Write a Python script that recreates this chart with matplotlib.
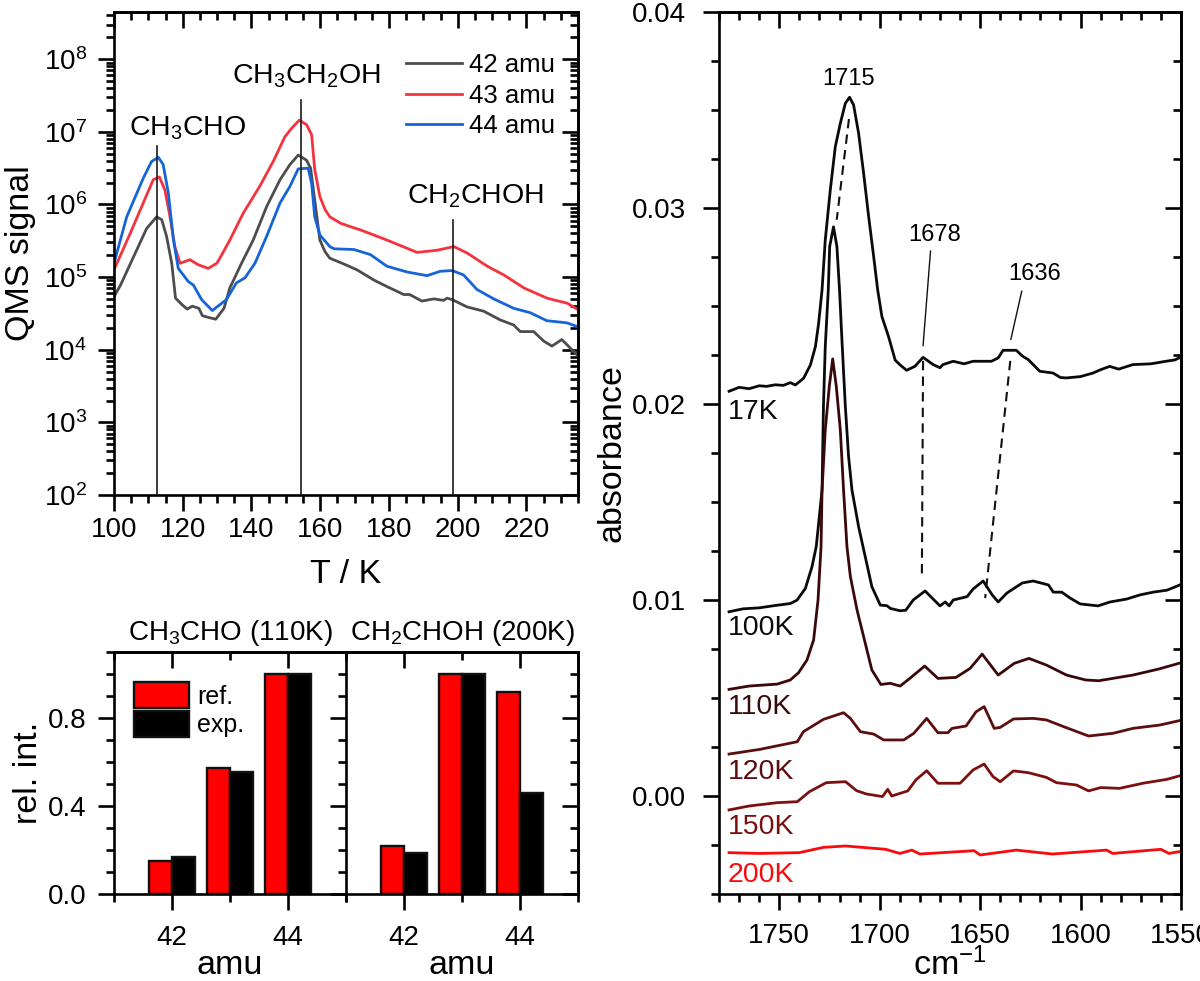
#!/usr/bin/env python
"""TPD traces, fragment ratios and IR spectra of the annealed ice."""

import matplotlib
matplotlib.use("Agg")
import matplotlib.pyplot as plt
from matplotlib.patches import Patch
from matplotlib.ticker import FixedLocator, LogLocator, MultipleLocator, NullFormatter

plt.rcParams["font.family"] = ["Liberation Sans", "DejaVu Sans"]
plt.rcParams["mathtext.fontset"] = "custom"
plt.rcParams["mathtext.rm"] = "Liberation Sans"
plt.rcParams["mathtext.default"] = "regular"

# QMS traces, log10 of the signal
T_42 = [100, 101.9, 105.7, 109.5, 112.4, 113.9, 115.3, 116.8, 117.9, 119.8, 121.3, 122.8, 124.7, 125.7, 127.1, 129.6,
        132, 133.7, 137.1, 140.5, 144.4, 148.3, 151.2, 153.6, 156, 157.2, 158.4, 159.9, 161.4, 162.8, 166.9, 170.7,
        175.6, 179.4, 184.3, 186, 189.6, 193, 195.9, 196.9, 198.4, 202.7, 207.6, 212.4, 216.3, 218.2, 222.1, 225,
        227.4, 230.3, 234.7]
S_42 = [4.73, 4.89, 5.28, 5.67, 5.83, 5.79, 5.56, 5.19, 4.71, 4.62, 4.56, 4.6, 4.57, 4.47, 4.45, 4.42,
        4.57, 4.85, 5.19, 5.51, 5.97, 6.34, 6.55, 6.68, 6.61, 6.5, 6.06, 5.51, 5.35, 5.26, 5.18, 5.1,
        4.96, 4.87, 4.76, 4.76, 4.67, 4.7, 4.68, 4.71, 4.69, 4.59, 4.53, 4.41, 4.34, 4.25, 4.25, 4.12,
        4.05, 4.14, 3.93]
T_43 = [100, 104.7, 109.5, 111.4, 113.2, 114.8, 116.3, 117.7, 119.2, 122.1, 124.5, 127.4, 129.9, 130.8, 133.7, 137.6,
        142.4, 146.3, 149.7, 151.7, 153.9, 156, 157.5, 158.4, 159.9, 161.4, 162.8, 166, 169.7, 171.7, 179.4, 188.2,
        194, 198.9, 202.8, 208.6, 213.4, 219.3, 226, 231.9, 234.7]
S_43 = [5.1, 5.6, 6.13, 6.34, 6.38, 6.2, 5.83, 5.42, 5.19, 5.24, 5.17, 5.12, 5.19, 5.26, 5.51, 5.88,
        6.25, 6.59, 6.93, 7.05, 7.16, 7.1, 6.96, 6.48, 6.11, 5.93, 5.83, 5.74, 5.68, 5.65, 5.51, 5.34,
        5.37, 5.42, 5.33, 5.15, 5.03, 4.85, 4.71, 4.64, 4.56]
T_44 = [100, 103.7, 108.5, 110.9, 112.9, 114.3, 115.8, 117.3, 118.7, 121.6, 123.1, 125.5, 128.6, 132.7, 135.6, 138.1,
        141, 144.4, 148.3, 151.2, 153.6, 156.5, 157.5, 158.4, 159.9, 162.8, 164, 169.8, 174.6, 179.4, 185.3, 191.1,
        194.9, 198.4, 201.7, 205.6, 210.5, 216.3, 221.1, 225.9, 231.8, 234.7]
S_44 = [5.19, 5.83, 6.36, 6.59, 6.65, 6.55, 6.16, 5.51, 5.12, 4.94, 4.89, 4.69, 4.54, 4.69, 4.92, 4.99,
        5.19, 5.56, 6.02, 6.25, 6.49, 6.5, 6.29, 5.83, 5.58, 5.42, 5.39, 5.38, 5.31, 5.15, 5.07, 5.02,
        5.08, 5.09, 5.03, 4.83, 4.7, 4.57, 4.51, 4.4, 4.37, 4.32]

# relative intensities
AMU = [42, 43, 44]
REF_CH3CHO = [0.151, 0.574, 1.0]
EXP_CH3CHO = [0.166, 0.556, 1.0]
REF_CH2CHOH = [0.216, 1.0, 0.918]
EXP_CH2CHOH = [0.186, 1.0, 0.461]

# IR spectra
W_17 = [1775, 1770, 1765, 1760, 1756.3, 1752, 1748, 1744.5, 1742, 1737.9, 1734.5, 1732, 1730.4, 1728.7, 1727.1, 1724.6,
        1722.1, 1719.6, 1717.1, 1715, 1713, 1710.5, 1708, 1705.5, 1703, 1701, 1698.9, 1695.6, 1692.3, 1689.8, 1686.6,
        1682.5, 1678.4, 1673.4, 1670, 1668.5, 1663.4, 1658, 1653.5, 1644.4, 1641, 1638.6, 1632, 1629, 1626, 1623,
        1620.3, 1613.7, 1610, 1607, 1600, 1593.8, 1590, 1585.5, 1581, 1574, 1565, 1557.5, 1553, 1551]
A_17 = [0.02065, 0.02085, 0.02078, 0.02093, 0.0209, 0.02098, 0.02095, 0.02109, 0.02097, 0.02131, 0.02199, 0.02293,
        0.02412, 0.02582, 0.02837, 0.03092, 0.03313, 0.03432, 0.03534, 0.03565, 0.03526, 0.03381, 0.03177, 0.02956,
        0.02752, 0.02582, 0.02446, 0.02344, 0.02224, 0.02199, 0.02172, 0.02192, 0.02238, 0.02201, 0.02185, 0.02201,
        0.02218, 0.02205, 0.02218, 0.02218, 0.02235, 0.02274, 0.02274, 0.02245, 0.02226, 0.02195, 0.02167, 0.02158,
        0.02135, 0.02133, 0.0214, 0.02158, 0.02175, 0.02192, 0.02178, 0.02201, 0.02205, 0.02218, 0.02225, 0.02235]
W_100 = [1775, 1768, 1760, 1752, 1744.5, 1741.2, 1737, 1733.7, 1731.6, 1730.4, 1728.7, 1728, 1727.1, 1725.6, 1724.9,
         1723, 1721.3, 1720, 1718.8, 1717.1, 1715.5, 1713.8, 1710.5, 1707.2, 1703.9, 1699.7, 1696.4, 1694.7, 1689.8,
         1687, 1683.3, 1677.4, 1670, 1667.4, 1665.4, 1663.4, 1656.5, 1653.5, 1648.5, 1644, 1641, 1636.6, 1629,
         1623.6, 1616, 1613.6, 1609.4, 1605.2, 1600.2, 1591.3, 1585.3, 1577, 1570.4, 1563.9, 1557, 1550.5]
A_100 = [0.0094, 0.00955, 0.0096, 0.00972, 0.00982, 0.00999, 0.01059, 0.0117, 0.01272, 0.01391, 0.01561, 0.01987,
         0.02293, 0.02582, 0.02803, 0.02904, 0.02803, 0.02582, 0.02327, 0.01987, 0.01733, 0.01561, 0.01374, 0.01221,
         0.01068, 0.00974, 0.00971, 0.00957, 0.00945, 0.00948, 0.01, 0.01046, 0.0097, 0.0099, 0.0097, 0.01,
         0.01017, 0.01056, 0.01097, 0.01026, 0.0099, 0.01036, 0.01087, 0.01097, 0.01077, 0.0104, 0.0104, 0.0101,
         0.0098, 0.0097, 0.0099, 0.01005, 0.01026, 0.0104, 0.0105, 0.01077]
W_110 = [1775, 1765, 1751, 1744.5, 1740.4, 1736.2, 1732.9, 1730.7, 1729.2, 1728.7, 1727.1, 1725.1, 1723.4, 1721.6,
         1719.6, 1718, 1716.3, 1714.6, 1711.3, 1708, 1703.9, 1699.4, 1694.8, 1689.8, 1685, 1677.6, 1671, 1662, 1655,
         1649, 1641, 1633, 1625.7, 1617, 1607, 1597.5, 1591, 1574, 1561, 1551]
A_110 = [0.00544, 0.00561, 0.00571, 0.00592, 0.00629, 0.00694, 0.00796, 0.01, 0.01272, 0.01562, 0.01867, 0.02089,
         0.0223, 0.02089, 0.01867, 0.01562, 0.01272, 0.0112, 0.0095, 0.00813, 0.00643, 0.00569, 0.00575, 0.00561,
         0.006, 0.00663, 0.006, 0.00605, 0.00651, 0.00724, 0.00617, 0.00677, 0.00702, 0.00668, 0.00617, 0.00592,
         0.00588, 0.00617, 0.00648, 0.00677]
W_120 = [1775, 1759.6, 1741, 1738, 1728, 1718, 1714.6, 1709.6, 1703, 1698, 1688, 1683, 1676.6, 1671, 1666, 1664, 1657,
         1652, 1648, 1643, 1640, 1633.4, 1623.5, 1617, 1608.5, 1596, 1583.8, 1574, 1560.6, 1551]
A_120 = [0.00214, 0.00238, 0.00277, 0.00328, 0.00391, 0.00425, 0.00396, 0.00328, 0.00316, 0.00286, 0.00286, 0.0032,
         0.00396, 0.00323, 0.00323, 0.00345, 0.00357, 0.0043, 0.00456, 0.00345, 0.0035, 0.00393, 0.00396, 0.00388,
         0.00354, 0.00306, 0.0032, 0.00345, 0.00362, 0.00384]
W_150 = [1775, 1765, 1751, 1741, 1735, 1726.6, 1717, 1711.5, 1706.5, 1698.6, 1696, 1694, 1686, 1682, 1676.6, 1671, 1660,
         1653.5, 1648, 1643.6, 1640, 1633.4, 1626, 1617, 1612, 1602, 1596, 1590, 1580.6, 1569, 1557, 1551]
A_150 = [-0.00071, -0.00051, -0.00034, -0.00029, 0.00022, 0.00068, 0.00073, 0.00027, 0.0001, -0.00003, 0.00034, 0.0,
         0.00026, 0.00082, 0.00129, 0.00065, 0.00065, 0.00133, 0.00163, 0.00099, 0.00073, 0.00128, 0.00119, 0.00095,
         0.00068, 0.00056, 0.00026, 0.00043, 0.00039, 0.00065, 0.00085, 0.00102]
W_200 = [1775, 1760, 1740, 1728, 1717, 1697, 1690, 1684, 1680, 1653, 1650, 1632, 1614, 1587, 1584, 1560, 1556, 1551]
A_200 = [-0.00289, -0.00293, -0.00289, -0.00262, -0.00255, -0.00272, -0.00293, -0.00276, -0.00296, -0.00279, -0.00301,
         -0.00276, -0.00296, -0.00276, -0.00293, -0.00272, -0.00293, -0.00284]

SPECTRA = [("17K", W_17, A_17, "#0a0a0a", 0.0196),
           ("100K", W_100, A_100, "#0a0a0a", 0.00855),
           ("110K", W_110, A_110, "#3a0808", 0.00455),
           ("120K", W_120, A_120, "#5c0d0d", 0.00122),
           ("150K", W_150, A_150, "#7c1010", -0.00158),
           ("200K", W_200, A_200, "#fa0a0a", -0.00403)]

W_PX, H_PX = 1200, 981
TICK_LW = 1.9
LABEL_SIZE = 24.5


def axes_px(fig, left, top, right, bottom):
    return fig.add_axes([left / W_PX, 1 - bottom / H_PX, (right - left) / W_PX, (bottom - top) / H_PX])


def style(ax, major=11.5, minor=5.5):
    for side in ax.spines.values():
        side.set_linewidth(TICK_LW)
    ax.tick_params(axis="both", which="major", length=major, width=TICK_LW, labelsize=20, pad=8)
    ax.tick_params(axis="both", which="minor", length=minor, width=TICK_LW)
    ax.tick_params(axis="x", which="both", direction="out", bottom=True, top=False)
    ax.tick_params(axis="y", which="both", direction="out", left=True, right=False)
    top = ax.secondary_xaxis("top")
    top.set_xscale(ax.get_xscale())
    top.xaxis.set_major_locator(ax.xaxis.get_major_locator())
    top.xaxis.set_minor_locator(ax.xaxis.get_minor_locator())
    top.xaxis.set_major_formatter(NullFormatter())
    top.xaxis.set_minor_formatter(NullFormatter())
    top.tick_params(which="major", direction="in", length=major, width=TICK_LW)
    top.tick_params(which="minor", direction="in", length=minor, width=TICK_LW)
    top.spines["top"].set_linewidth(TICK_LW)


def add_right_ticks(ax, major=11.5, minor=5.5):
    right = ax.secondary_yaxis("right")
    right.set_yscale(ax.get_yscale())
    right.yaxis.set_major_locator(ax.yaxis.get_major_locator())
    right.yaxis.set_minor_locator(ax.yaxis.get_minor_locator())
    right.yaxis.set_major_formatter(NullFormatter())
    right.yaxis.set_minor_formatter(NullFormatter())
    right.tick_params(which="major", direction="in", length=major, width=TICK_LW)
    right.tick_params(which="minor", direction="in", length=minor, width=TICK_LW)
    right.spines["right"].set_linewidth(TICK_LW)


def draw_qms(ax):
    for temp, sig, color, label in [(T_42, S_42, "#4d4d4d", "42 amu"), (T_43, S_43, "#f5333f", "43 amu"),
                                    (T_44, S_44, "#1565d8", "44 amu")]:
        ax.plot(temp, [10 ** s for s in sig], color=color, lw=2.0, label=label)
    ax.set_yscale("log")
    ax.set_xlim(100, 235)
    ax.set_ylim(1e2, 10 ** 8.65)
    ax.xaxis.set_major_locator(MultipleLocator(20))
    ax.xaxis.set_minor_locator(MultipleLocator(5))
    ax.yaxis.set_major_locator(LogLocator(base=10, numticks=12))
    ax.yaxis.set_minor_locator(LogLocator(base=10, subs=range(2, 10), numticks=12))
    ax.yaxis.set_minor_formatter(NullFormatter())
    style(ax)
    add_right_ticks(ax)
    ax.tick_params(axis="x", which="major", pad=4)
    ax.set_xlabel("T / K", fontsize=LABEL_SIZE, labelpad=12)
    ax.set_ylabel("QMS signal", fontsize=LABEL_SIZE, labelpad=5)
    for temp, height in [(112.5, 10 ** 6.8), (154.3, 10 ** 7.44), (198.6, 10 ** 5.78)]:
        ax.plot([temp, temp], [1e2, height], color="#1a1a1a", lw=1.2)
    ax.text(121.3, 10 ** 7.05, "CH$_3$CHO", fontsize=20.5, ha="center", va="center")
    ax.text(155.9, 10 ** 7.77, "CH$_3$CH$_2$OH", fontsize=20.5, ha="center", va="center")
    ax.text(205.3, 10 ** 6.12, "CH$_2$CHOH", fontsize=20.5, ha="center", va="center")
    ax.legend(loc="upper right", bbox_to_anchor=(0.95, 0.915), frameon=False, fontsize=18.5, handlelength=2.2,
              handletextpad=0.25, labelspacing=0.26, borderpad=0, borderaxespad=0)


def draw_bars(ax, ref, exp, title):
    ax.bar([a - 0.2 for a in AMU], ref, width=0.4, color="#ff0000", edgecolor="#111111", linewidth=1.7)
    ax.bar([a + 0.2 for a in AMU], exp, width=0.4, color="#000000", edgecolor="#111111", linewidth=1.7)
    ax.set_xlim(41, 45)
    ax.set_ylim(0, 1.1)
    ax.xaxis.set_major_locator(FixedLocator([42, 44]))
    ax.xaxis.set_minor_locator(FixedLocator([41, 43, 45]))
    ax.yaxis.set_major_locator(MultipleLocator(0.4))
    ax.yaxis.set_minor_locator(MultipleLocator(0.1))
    style(ax)
    ax.tick_params(axis="x", which="major", pad=11)
    ax.set_xlabel("amu", fontsize=LABEL_SIZE, labelpad=-1)
    ax.set_title(title, fontsize=20, pad=9)


def draw_spectra(ax):
    for label, wave, absorb, color, label_y in SPECTRA:
        ax.plot(wave, absorb, color=color, lw=2.0)
        ax.text(1775.5, label_y, label, color=color, fontsize=20.5, ha="left", va="center")
    ax.set_xlim(1780, 1550)
    ax.set_ylim(-0.005, 0.04)
    ax.xaxis.set_major_locator(MultipleLocator(50))
    ax.xaxis.set_minor_locator(MultipleLocator(10))
    ax.yaxis.set_major_locator(MultipleLocator(0.01))
    ax.yaxis.set_minor_locator(MultipleLocator(0.0025))
    ax.set_yticks([0.0, 0.01, 0.02, 0.03, 0.04], ["0.00", "0.01", "0.02", "0.03", "0.04"])
    style(ax)
    add_right_ticks(ax)
    ax.tick_params(axis="y", which="major", pad=12.5)
    ax.tick_params(axis="x", which="major", pad=9.5)
    ax.set_xlabel("cm$^{-1}$", fontsize=LABEL_SIZE, labelpad=-1)
    ax.set_ylabel("absorbance", fontsize=LABEL_SIZE, labelpad=3)
    for xs, ys in [((1715.3, 1721.4), (0.03454, 0.0294)), ((1678.4, 1679), (0.0222, 0.0113)),
                   ((1635, 1647.5), (0.0222, 0.0101))]:
        ax.plot(xs, ys, color="#111111", lw=1.5, ls=(0, (4.5, 3)))
    ax.plot([1674.7, 1678.4], [0.0278, 0.02298], color="#111111", lw=1.0)
    ax.plot([1629.3, 1634.7], [0.02575, 0.0233], color="#111111", lw=1.0)
    ax.text(1715.3, 0.03658, "1715", fontsize=17, ha="center", va="center")
    ax.text(1672.5, 0.0286, "1678", fontsize=17, ha="center", va="center")
    ax.text(1623, 0.02665, "1636", fontsize=17, ha="center", va="center")


def main():
    fig = plt.figure(figsize=(W_PX / 100, H_PX / 100), dpi=100)

    draw_qms(axes_px(fig, 114, 12, 578, 495))

    ax_left = axes_px(fig, 114, 652, 346, 894)
    ax_right = axes_px(fig, 346, 652, 578, 894)
    draw_bars(ax_left, REF_CH3CHO, EXP_CH3CHO, "CH$_3$CHO (110K)")
    draw_bars(ax_right, REF_CH2CHOH, EXP_CH2CHOH, "CH$_2$CHOH (200K)")
    ax_left.set_yticks([0.0, 0.4, 0.8], ["0.0", "0.4", "0.8"])
    ax_left.set_ylabel("rel. int.", fontsize=LABEL_SIZE, labelpad=3)
    ax_right.tick_params(axis="y", which="both", labelleft=False)
    add_right_ticks(ax_right)
    ax_left.spines["right"].set_visible(False)
    handles = [Patch(facecolor="#ff0000", edgecolor="#111111", linewidth=1.7, label="ref."),
               Patch(facecolor="#000000", edgecolor="#111111", linewidth=1.7, label="exp.")]
    ax_left.legend(handles=handles, loc="upper left", bbox_to_anchor=(0.085, 0.875), frameon=False, fontsize=18,
                   handlelength=2.2, handleheight=1.2, handletextpad=0.35, labelspacing=0.1, borderpad=0,
                   borderaxespad=0)

    draw_spectra(axes_px(fig, 719, 12, 1181, 894))

    fig.savefig("out.png", dpi=100, facecolor="white")
    plt.close(fig)


if __name__ == "__main__":
    main()
